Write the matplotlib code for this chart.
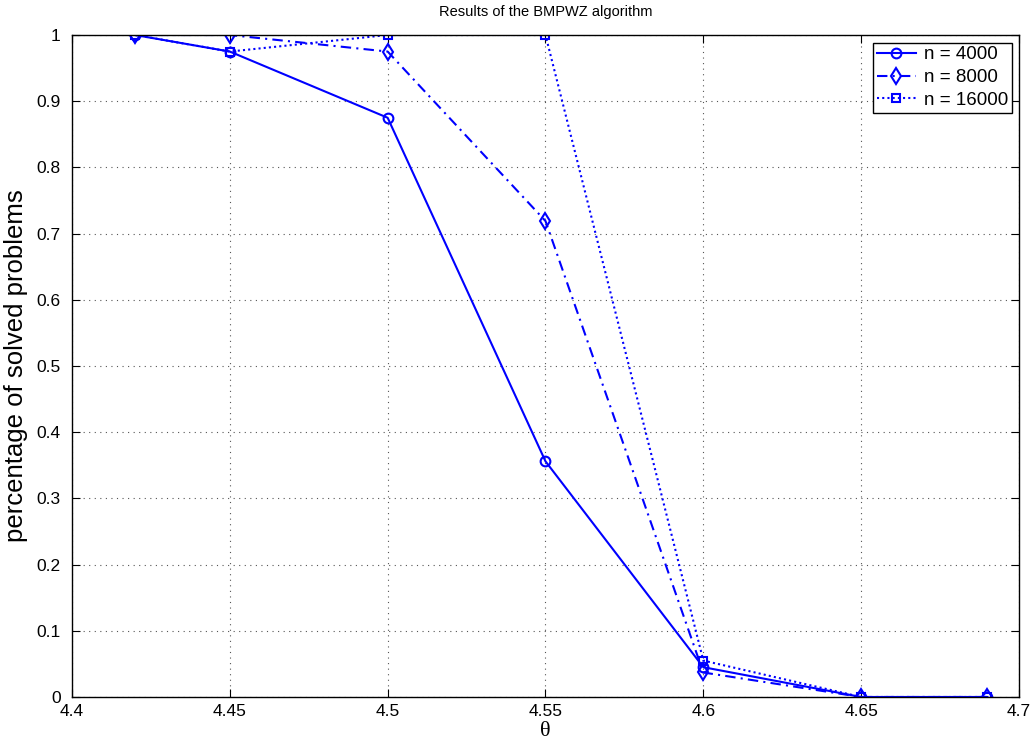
import numpy as np
import matplotlib
matplotlib.use("Agg")
import matplotlib.pyplot as plt

# data
theta = [4.42, 4.45, 4.5, 4.55, 4.6, 4.65, 4.69]
n4000 = [1.0, 0.975, 0.875, 0.356, 0.045, 0.0, 0.0]
n8000 = [1.0, 1.0, 0.975, 0.719, 0.037, 0.0, 0.0]
n16000 = [1.0, 0.975, 1.0, 1.0, 0.055, 0.0, 0.0]

xticks = [4.4, 4.45, 4.5, 4.55, 4.6, 4.65, 4.7]
xticklabels = ["4.4", "4.45", "4.5", "4.55", "4.6", "4.65", "4.7"]
yticks = [0, 0.1, 0.2, 0.3, 0.4, 0.5, 0.6, 0.7, 0.8, 0.9, 1]
yticklabels = ["0", "0.1", "0.2", "0.3", "0.4", "0.5", "0.6", "0.7", "0.8", "0.9", "1"]

plt.rcParams['font.family'] = ['Liberation Sans', 'DejaVu Sans']

fig = plt.figure(figsize=(10.34, 7.48), dpi=100)
ax = fig.add_axes([0.0696, 0.0682, 0.9159, 0.885])

blue = (0, 0, 1)
ax.plot(theta, n4000, color=blue, lw=1.5, ls='-', marker='o', ms=7,
        mfc='none', mew=1.5, label='n = 4000')
ax.plot(theta, n8000, color=blue, lw=1.5, ls=(0, (5, 2.5, 1, 2.5)), marker='d', ms=8,
        mfc='none', mew=1.5, label='n = 8000')
ax.plot(theta, n16000, color=blue, lw=1.5, ls=(0, (1, 1.5)), marker='s', ms=6,
        mfc='none', mew=1.5, label='n = 16000')

ax.set_xlim(4.4, 4.7)
ax.set_ylim(0, 1)
ax.set_xticks(xticks)
ax.set_xticklabels(xticklabels)
ax.set_yticks(yticks)
ax.set_yticklabels(yticklabels)
ax.tick_params(direction='in', length=6, labelsize=12.5, top=True, right=True)
ax.tick_params(axis='y', pad=8)
ax.tick_params(axis='x', pad=5)
ax.grid(True, ls=(0, (1, 4)), color='#555555', lw=0.8)
for s in ax.spines.values():
    s.set_linewidth(1.0)

ax.set_title("Results of the BMPWZ algorithm", fontsize=10.5, pad=14)
ax.set_ylabel("percentage of solved problems", fontsize=18.5, labelpad=6)
ax.set_xlabel("θ", fontsize=16, family=['Liberation Serif', 'DejaVu Serif'], labelpad=2)

leg = ax.legend(loc='upper right', fontsize=13.5, fancybox=False, framealpha=1,
                edgecolor='black', handlelength=2.1, borderaxespad=0.4,
                labelspacing=0.3, borderpad=0.2, handletextpad=0.4)
leg.get_frame().set_linewidth(1.0)

fig.savefig("out.png", dpi=100)
